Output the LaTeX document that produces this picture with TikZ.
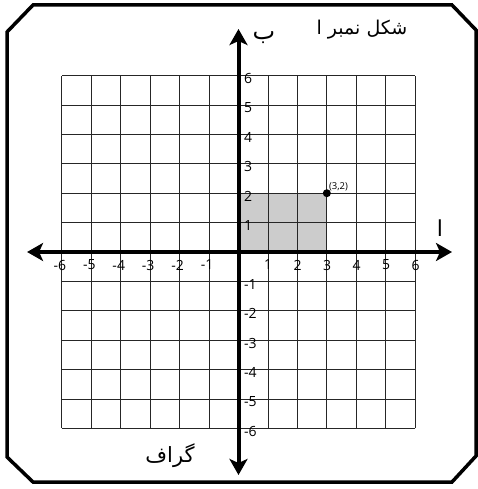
\documentclass[tikz,border=0pt]{standalone}
\usepackage{fontspec}
\setmainfont{Open Sans}
\newfontfamily\urdu[Script=Arabic]{DejaVu Sans}
\TeXXeTstate=1
\usetikzlibrary{arrows.meta}
\begin{document}
\begin{tikzpicture}[x=1pt,y=-1pt,
  frame/.style={line width=3.5pt, line join=miter},
  gridline/.style={line width=0.9pt, black!85},
  axisline/.style={line width=4pt, -{Stealth[length=16pt,width=18pt,inset=4pt]}},
  tick/.style={font=\fontsize{14}{15}\selectfont, inner sep=0pt},
  urdulabel/.style={font=\urdu\fontsize{19}{21}\selectfont, inner sep=0pt}]
\useasboundingbox (0,0) rectangle (478,489);
% frame
\draw[frame] (7,32) -- (33,5) -- (452,5) -- (476,30) -- (476,456) -- (452,482) -- (33,482) -- (7,457) -- cycle;
\begin{scope}[shift={(238.5pt,-252pt)}, x=29.45pt, y=29.4pt]
  \fill[black!20] (0,0) rectangle (3,2);
  \foreach \k in {-6,...,6} {
    \draw[gridline] (\k,-6) -- (\k,6);
    \draw[gridline] (-6,\k) -- (6,\k);
  }
  \coordinate (xl) at (-7.18,0);
  \coordinate (xr) at (7.25,0);
  \coordinate (yb) at (0,-7.585);
  \coordinate (yt) at (0,7.585);
  \draw[axisline] (0,0) -- (xr);
  \draw[axisline] (0,0) -- (xl);
  \draw[axisline] (0,0) -- (yt);
  \draw[axisline] (0,0) -- (yb);
  \foreach \i in {-6,...,-1,1,2,3,4,5,6} {
    \node[tick, anchor=east] (xt\i) at ([xshift=4.5pt,yshift=-13pt]\i,0) {\i};
    \node[tick, anchor=west] (yt\i) at ([xshift=5.5pt,yshift=-3pt]0,\i) {\i};
  }
  \node[circle, fill=black, inner sep=0pt, minimum size=8pt] (p) at (3,2) {};
  \node[anchor=west, inner sep=0pt, font=\fontsize{9.5}{10}\selectfont] (plabel) at ([xshift=2pt,yshift=6.5pt]p.center) {(3,2)};
\end{scope}
\node[urdulabel] (title) at (362,30) {\beginR شکل نمبر ا\endR};
\node[urdulabel, font=\urdu\fontsize{24}{26}\selectfont] (blabel) at (264,38) {\beginR ب\endR};
\node[urdulabel, font=\urdu\fontsize{22}{24}\selectfont] (alabel) at (440,228) {\beginR ا\endR};
\node[urdulabel, font=\urdu\fontsize{21}{23}\selectfont] (graph) at (170,456) {\beginR گراف\endR};
\end{tikzpicture}
\end{document}
